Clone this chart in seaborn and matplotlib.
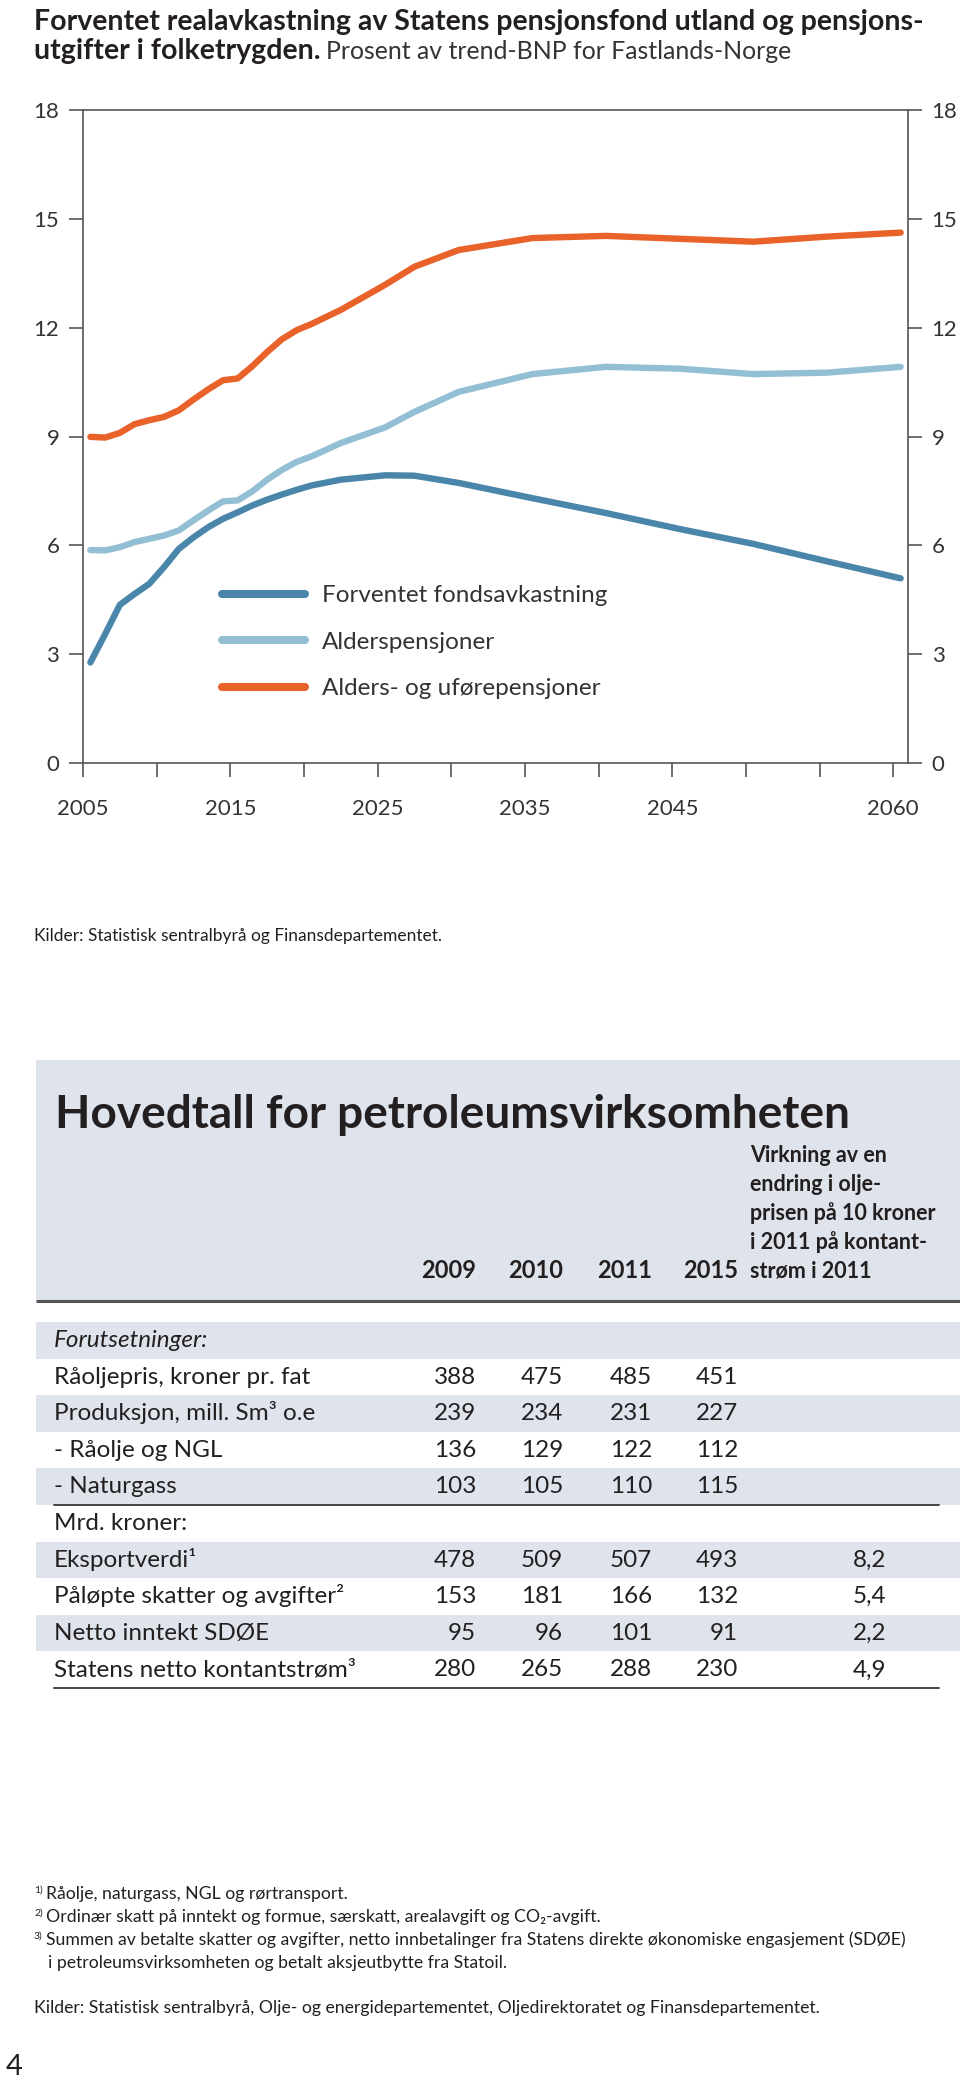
import numpy as np
import pandas as pd
import matplotlib
matplotlib.use("Agg")
import matplotlib.pyplot as plt
import seaborn as sns
from matplotlib.lines import Line2D
from matplotlib.patches import Rectangle

# ---- chart data: per cent of trend GDP for mainland Norway ----
years = [2005, 2006, 2007, 2008, 2009, 2010, 2011, 2012, 2013, 2014, 2015,
         2016, 2017, 2018, 2019, 2020, 2022, 2025, 2027, 2030, 2035, 2040,
         2045, 2050, 2055, 2060]
fondsavkastning = [2.77, 3.55, 4.36, 4.66, 4.94, 5.40, 5.90, 6.22, 6.50, 6.73, 6.91,
                   7.10, 7.26, 7.40, 7.53, 7.65, 7.81, 7.93, 7.92, 7.72, 7.30, 6.89,
                   6.45, 6.04, 5.56, 5.09]
alderspensjoner = [5.87, 5.86, 5.95, 6.09, 6.18, 6.27, 6.41, 6.69, 6.96, 7.21, 7.24,
                   7.49, 7.81, 8.08, 8.30, 8.45, 8.82, 9.25, 9.68, 10.23, 10.72, 10.92,
                   10.87, 10.72, 10.76, 10.92]
alders_ufore = [8.99, 8.97, 9.10, 9.34, 9.45, 9.54, 9.72, 10.02, 10.30, 10.55, 10.60,
                10.94, 11.33, 11.68, 11.93, 12.10, 12.49, 13.18, 13.68, 14.14, 14.47, 14.53,
                14.45, 14.37, 14.51, 14.62]
series_names = ["Forventet fondsavkastning", "Alderspensjoner", "Alders- og uførepensjoner"]
series_colors = ["#4a86aa", "#93bfd4", "#e8622a"]

x_ticks = list(range(2005, 2061, 5))
x_labels = ["2005", "", "2015", "", "2025", "", "2035", "", "2045", "", "", "2060"]
y_ticks = [0, 3, 6, 9, 12, 15, 18]

# ---- table data ----
row_labels = ["Forutsetninger:", "Råoljepris, kroner pr. fat", "Produksjon, mill. Sm³ o.e",
              "- Råolje og NGL", "- Naturgass", "Mrd. kroner:", "Eksportverdi¹",
              "Påløpte skatter og avgifter²", "Netto inntekt SDØE", "Statens netto kontantstrøm³"]
col_years = ["2009", "2010", "2011", "2015"]
v2009 = [None, 388, 239, 136, 103, None, 478, 153, 95, 280]
v2010 = [None, 475, 234, 129, 105, None, 509, 181, 96, 265]
v2011 = [None, 485, 231, 122, 110, None, 507, 166, 101, 288]
v2015 = [None, 451, 227, 112, 115, None, 493, 132, 91, 230]
effect = [None, None, None, None, None, None, "8,2", "5,4", "2,2", "4,9"]
effect_header = ["Virkning av en", "endring i olje-", "prisen på 10 kroner",
                 "i 2011 på kontant-", "strøm i 2011"]
footnotes = [("1)", "Råolje, naturgass, NGL og rørtransport."),
             ("2)", "Ordinær skatt på inntekt og formue, særskatt, arealavgift og CO₂-avgift."),
             ("3)", "Summen av betalte skatter og avgifter, netto innbetalinger fra Statens direkte økonomiske engasjement (SDØE)"),
             ("", "i petroleumsvirksomheten og betalt aksjeutbytte fra Statoil.")]

sns.set_theme(style="white")
plt.rcParams["font.family"] = ["Lato", "DejaVu Sans"]

W, H = 960, 2077
ink = "#231f20"
band = "#dfe4ec"

fig = plt.figure(figsize=(W / 100, H / 100), dpi=100)
# full-page overlay in pixel coordinates for text and table
bg = fig.add_axes([0, 0, 1, 1])
bg.set_xlim(0, W)
bg.set_ylim(H, 0)
bg.axis("off")
rend = fig.canvas.get_renderer()


def fit(t, width):
    w = t.get_window_extent(renderer=rend).width
    t.set_fontsize(t.get_fontsize() * width / w)
    return t


# ---- line chart ----
ax = fig.add_axes([83 / W, 1 - 763 / H, 825 / W, 653 / H])
ax.set_facecolor("none")
df = pd.DataFrame({
    "år": years * 3,
    "verdi": fondsavkastning + alderspensjoner + alders_ufore,
    "serie": [n for n in series_names for _ in years],
})
df["x"] = df["år"] + 0.5  # annual figures sit mid-year
sns.lineplot(data=df, x="x", y="verdi", hue="serie", hue_order=series_names,
             palette=series_colors, linewidth=4.6, errorbar=None, legend=False,
             solid_capstyle="round", ax=ax)
ax.set_xlim(2005, 2061)
ax.set_ylim(0, 18)
ax.set_xticks(x_ticks)
ax.set_xticklabels(x_labels)
ax.set_yticks(y_ticks)
ax.set_xlabel("")
ax.set_ylabel("")
ax.grid(False)
ax.tick_params(axis="y", left=True, right=True, labelleft=True, labelright=True,
               direction="out", length=10, width=1.2, color="#555",
               labelsize=16, labelcolor="#333", pad=7)
ax.tick_params(axis="x", bottom=True, direction="out", length=10, width=1.2,
               color="#555", labelsize=16, labelcolor="#333", pad=16)
for s in ax.spines.values():
    s.set_visible(True)
    s.set_color("#555")
    s.set_linewidth(1.2)

handles = [Line2D([], [], color=c, lw=5.8, solid_capstyle="round") for c in series_colors]
leg = ax.legend(handles, series_names, loc="upper left",
                bbox_to_anchor=(222 / W, 1 - 585 / H), bbox_transform=fig.transFigure,
                frameon=False, fontsize=17.5, handlelength=3.4, handletextpad=0.7,
                labelspacing=1.05, borderpad=0, borderaxespad=0)
for t in leg.get_texts():
    t.set_color("#333")

# chart title
t1 = bg.text(34, 30, "Forventet realavkastning av Statens pensjonsfond utland og pensjons-",
             fontsize=20, fontweight="bold", color=ink, va="baseline")
fit(t1, 890)
t2 = bg.text(34, 59, "utgifter i folketrygden.", fontsize=t1.get_fontsize(),
             fontweight="bold", color=ink, va="baseline")
bb = t2.get_window_extent(renderer=rend)
t3 = bg.text(bb.x1 + 5, 59, "Prosent av trend-BNP for Fastlands-Norge",
             fontsize=t1.get_fontsize(), color="#333", va="baseline")
fit(t3, 792 - bb.x1 - 5)

fit(bg.text(34, 941, "Kilder: Statistisk sentralbyrå og Finansdepartementet.",
            fontsize=13, color=ink, va="baseline"), 408)

# ---- table ----
bg.add_patch(Rectangle((36, 1060), W - 36, 240, color=band, lw=0))
bg.plot([36, W], [1301, 1301], color="#555", lw=2.2, solid_capstyle="butt")
fit(bg.text(55, 1128, "Hovedtall for petroleumsvirksomheten", fontsize=30,
            fontweight="bold", color=ink, va="baseline"), 795)

col_right = [476, 563, 652, 738]
eff_right = 886
for xr, yr in zip(col_right, col_years):
    bg.text(xr, 1278, yr, ha="right", va="baseline", fontsize=17,
            fontweight="bold", color=ink)
for k, line in enumerate(reversed(effect_header)):
    bg.text(750, 1278 - k * 29, line, va="baseline", fontsize=15.5,
            fontweight="bold", color=ink)

row_top0, row_h = 1322, 36.6
cols = [v2009, v2010, v2011, v2015]
for i, lab in enumerate(row_labels):
    top = row_top0 + i * row_h
    if i % 2 == 0:
        bg.add_patch(Rectangle((36, top), W - 36, row_h, color=band, lw=0))
    base = top + 25
    style = "italic" if i == 0 else "normal"
    bg.text(54, base, lab, va="baseline", fontsize=17.5, style=style, color=ink)
    for xr, col in zip(col_right, cols):
        if col[i] is not None:
            bg.text(xr, base, str(col[i]), ha="right", va="baseline",
                    fontsize=17.5, color=ink)
    if effect[i] is not None:
        bg.text(eff_right, base, effect[i], ha="right", va="baseline",
                fontsize=17.5, color=ink)

bg.plot([54, 939], [row_top0 + 5 * row_h] * 2, color="#444", lw=1.4)
bg.plot([54, 939], [row_top0 + 10 * row_h] * 2, color="#444", lw=1.4)

# footnotes
fn_base = [1899, 1922, 1945, 1968]
t = bg.text(46, fn_base[2], footnotes[2][1], va="baseline", fontsize=13, color=ink)
fit(t, 856)
fsize = t.get_fontsize()
for k, (mark, txt) in enumerate(footnotes):
    if mark:
        bg.text(34, fn_base[k] - 6, mark, va="baseline", fontsize=7.5, color=ink)
    if k != 2:
        bg.text(46 if mark else 48, fn_base[k], txt, va="baseline", fontsize=fsize,
                color=ink)

bg.text(34, 2013, "Kilder: Statistisk sentralbyrå, Olje- og energidepartementet, "
        "Oljedirektoratet og Finansdepartementet.", va="baseline", fontsize=fsize,
        color=ink)
bg.text(6, 2075, "4", va="baseline", fontsize=21, color=ink)

fig.savefig("out.png", dpi=100)
